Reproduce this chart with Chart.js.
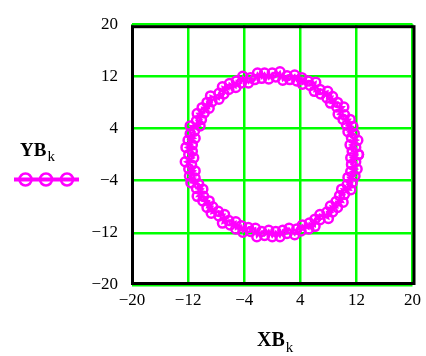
<!DOCTYPE html>
<html>
<head>
<meta charset="utf-8">
<script src="https://cdn.jsdelivr.net/npm/chart.js@4.4.1/dist/chart.umd.min.js"></script>
<style>
  html, body { margin: 0; padding: 0; background: #fff; }
  #wrap { width: 426px; height: 356px; position: relative; }
</style>
</head>
<body>
<div id="wrap"><canvas id="plot"></canvas></div>
<script>
// === Dados: pontos do traço (XB_k, YB_k), uma volta completa ===
const XB = [
  12.3, 11.4, 11.9, 11.1, 12.2, 11.3, 11.7, 10.8, 11.5, 10.6, 11.1, 10.1,
  10.3, 9.4, 10.2, 9.2, 9.3, 8.3, 8.6, 7.8, 7.9, 6.9, 6.8, 6.0,
  6.2, 5.4, 5.1, 4.3, 4.2, 3.5, 3.2, 2.5, 2.1, 1.5, 1.1, 0.5,
  0, -0.5, -1.1, -1.5, -2.1, -2.5, -3.1, -3.4, -4.2, -4.4, -5.1, -5.2,
  -6.1, -6.2, -7.1, -6.9, -7.6, -7.6, -8.8, -8.6, -9.3, -9.0, -10.0, -9.7,
  -10.7, -10.1, -10.8, -10.3, -11.7, -11.1, -11.7, -11.0, -12.0, -11.4, -12.3, -11.4,
  -11.9, -11.2, -12.4, -11.5, -11.9, -11.0, -11.8, -11.0, -11.6, -10.5, -10.8, -9.9,
  -10.7, -9.8, -9.9, -9.0, -9.3, -8.5, -8.7, -7.7, -7.6, -6.8, -7.1, -6.2,
  -6.0, -5.2, -5.2, -4.4, -4.2, -3.4, -3.1, -2.4, -2.2, -1.5, -1.1, -0.5,
  0, 0.5, 1.1, 1.5, 2.1, 2.4, 3.2, 3.5, 4.1, 4.3, 5.2, 5.3,
  6.1, 6.1, 6.8, 6.8, 8.0, 7.8, 8.6, 8.3, 9.3, 9.1, 10.1, 9.6,
  10.3, 9.9, 11.2, 10.7, 11.4, 10.8, 11.8, 11.2, 12.1, 11.3, 11.9, 11.2,
  12.3];
const YB = [
  0, 0.5, 1.1, 1.5, 2.2, 2.6, 3.2, 3.5, 4.3, 4.5, 5.4, 5.4,
  6.1, 6.2, 7.3, 7.3, 8.0, 7.9, 8.9, 8.7, 9.7, 9.3, 10.0, 9.7,
  11.1, 10.6, 11.3, 10.8, 11.8, 11.3, 12.2, 11.5, 12.1, 11.4, 12.7, 11.9,
  12.5, 11.6, 12.5, 11.7, 12.5, 11.5, 11.8, 11.0, 12.0, 11.0, 11.3, 10.3,
  10.9, 10.0, 10.4, 9.3, 9.4, 8.5, 9.0, 8.1, 8.0, 7.1, 7.2, 6.4,
  6.3, 5.4, 5.2, 4.4, 4.4, 3.6, 3.2, 2.5, 2.2, 1.5, 1.1, 0.5,
  0, -0.5, -1.1, -1.6, -2.2, -2.5, -3.3, -3.6, -4.3, -4.5, -5.2, -5.3,
  -6.4, -6.4, -7.1, -7.1, -8.1, -8.0, -9.0, -8.7, -9.4, -9.2, -10.5, -10.1,
  -10.8, -10.3, -11.4, -10.9, -11.9, -11.2, -11.8, -11.3, -12.6, -11.8, -12.4, -11.6,
  -12.6, -11.8, -12.6, -11.6, -12.1, -11.3, -12.3, -11.4, -11.7, -10.8, -11.4, -10.5,
  -11.0, -9.9, -10.0, -9.2, -9.8, -8.8, -8.8, -7.9, -8.1, -7.2, -7.3, -6.3,
  -6.1, -5.3, -5.4, -4.6, -4.3, -3.5, -3.3, -2.6, -2.2, -1.5, -1.1, -0.5,
  0];

// === Eixos ===
const tickValues = [-20, -12, -4, 4, 12, 20];
const tickLabels = ['\u221220', '\u221212', '\u22124', '4', '12', '20'];

const magenta = '#ff00ff';
const green = '#00ff00';
const serif = '"Liberation Serif", "DejaVu Serif", serif';

const points = XB.map((x, i) => ({ x: x, y: YB[i] }));

function setTicks(scale) {
  scale.ticks = tickValues.map(v => ({ value: v }));
}
function tickText(value) {
  const i = tickValues.indexOf(value);
  return i >= 0 ? tickLabels[i] : '';
}

// moldura preta, legenda do traço e nomes dos eixos
const extras = {
  id: 'extras',
  beforeDatasetsDraw(chart) {
    const { ctx, chartArea: a } = chart;
    ctx.save();
    ctx.strokeStyle = '#000';
    ctx.lineWidth = 3;
    ctx.strokeRect(a.left + 0.5, a.top + 2.5, a.right - a.left + 1, a.bottom - a.top - 4);
    ctx.restore();
  },
  afterDraw(chart) {
    const { ctx } = chart;
    ctx.save();
    ctx.fillStyle = '#000';
    ctx.textBaseline = 'alphabetic';

    // YB_k
    ctx.font = 'bold 19px ' + serif;
    ctx.fillText('YB', 20, 156);
    let w = ctx.measureText('YB').width;
    ctx.font = '15px ' + serif;
    ctx.fillText('k', 20 + w + 1, 161);

    // amostra do traço
    ctx.strokeStyle = magenta;
    ctx.lineWidth = 4;
    ctx.beginPath();
    ctx.moveTo(14, 179.5);
    ctx.lineTo(79, 179.5);
    ctx.stroke();
    ctx.lineWidth = 2.5;
    [25.5, 46, 67].forEach(cx => {
      ctx.beginPath();
      ctx.arc(cx, 179.5, 6, 0, Math.PI * 2);
      ctx.stroke();
    });

    // XB_k
    ctx.font = 'bold 20px ' + serif;
    w = ctx.measureText('XB').width;
    const x0 = 257;
    ctx.fillText('XB', x0, 346);
    ctx.font = '15px ' + serif;
    ctx.fillText('k', x0 + w + 1, 352);
    ctx.restore();
  }
};

const chart = new Chart(document.getElementById('plot'), {
  type: 'scatter',
  data: {
    datasets: [{
      label: 'YB_k',
      data: points,
      showLine: true,
      borderColor: magenta,
      borderWidth: 2,
      pointStyle: 'circle',
      pointRadius: 4.5,
      pointBorderWidth: 2.5,
      pointBorderColor: magenta,
      pointBackgroundColor: 'rgba(255,255,255,0)',
      tension: 0
    }]
  },
  options: {
    responsive: true,
    maintainAspectRatio: false,
    animation: false,
    layout: { padding: { left: 0, right: 12, top: 12, bottom: 0 } },
    plugins: {
      legend: { display: false },
      tooltip: { enabled: false }
    },
    scales: {
      x: {
        type: 'linear',
        min: -20,
        max: 20,
        afterBuildTicks: setTicks,
        afterFit(s) { s.height = 71; },
        grid: { color: green, lineWidth: 2.5, drawTicks: false },
        border: { display: false },
        ticks: {
          padding: 5,
          color: '#000',
          font: { family: serif, size: 17 },
          maxRotation: 0,
          callback: tickText
        }
      },
      y: {
        type: 'linear',
        min: -20,
        max: 20,
        afterBuildTicks: setTicks,
        afterFit(s) { s.width = 132; },
        grid: { color: green, lineWidth: 2.5, drawTicks: false },
        border: { display: false },
        ticks: {
          padding: 14,
          color: '#000',
          font: { family: serif, size: 17 },
          callback: tickText
        }
      }
    }
  },
  plugins: [extras]
});
</script>
</body>
</html>
